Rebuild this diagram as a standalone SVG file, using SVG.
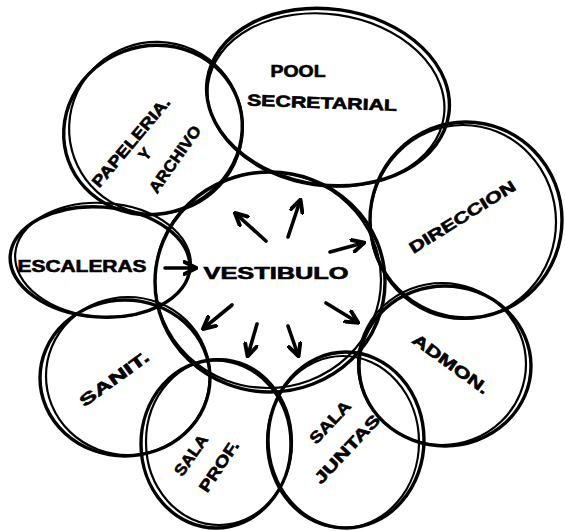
<svg xmlns="http://www.w3.org/2000/svg" width="565" height="531" viewBox="0 0 565 531">
<style>
.b{fill:none;stroke:#000;stroke-width:3.4;stroke-linecap:round}
.b2{fill:none;stroke:#000;stroke-width:2.2;stroke-linecap:round}
.t{font-family:"Liberation Sans",Arial,sans-serif;font-weight:bold;font-size:16px;fill:#000;stroke:#000;stroke-width:0.6;text-anchor:middle;dominant-baseline:middle}
.a{fill:none;stroke:#000;stroke-width:3.6;stroke-linecap:round}
</style>
<defs>
<marker id="ah" viewBox="0 0 10 10" refX="8" refY="5" markerWidth="4.2" markerHeight="4.2" orient="auto" markerUnits="strokeWidth">
<path d="M1,1 L9,5 L1,9" fill="none" stroke="#000" stroke-width="2.6" stroke-linejoin="round" stroke-linecap="round"/>
</marker>
</defs>
<rect width="565" height="531" fill="#fff"/>
<g id="papeleria">
<ellipse class="b" cx="153" cy="130" rx="90" ry="84" transform="rotate(-20 153 130)"/>
<ellipse class="b2" cx="156" cy="128" rx="87" ry="86" transform="rotate(-20 156 128)"/>
<text class="t" transform="translate(132,143) rotate(-50)" textLength="112" lengthAdjust="spacingAndGlyphs">PAPELERIA.</text>
<text class="t" transform="translate(146,155) rotate(-50)">Y</text>
<text class="t" transform="translate(176,160) rotate(-55)" textLength="78" lengthAdjust="spacingAndGlyphs">ARCHIVO</text>
</g>
<g id="pool">
<ellipse class="b" cx="328" cy="97" rx="122" ry="88" transform="rotate(8 328 97)"/>
<ellipse class="b2" cx="326" cy="100" rx="119" ry="86" transform="rotate(8 326 100)"/>
<text class="t" x="298" y="73" textLength="55" lengthAdjust="spacingAndGlyphs">POOL</text>
<text class="t" transform="translate(322,104) rotate(2)" textLength="150" lengthAdjust="spacingAndGlyphs">SECRETARIAL</text>
</g>
<g id="direccion">
<ellipse class="b" cx="466" cy="220" rx="96" ry="98"/>
<ellipse class="b2" cx="463" cy="222" rx="93" ry="97"/>
<text class="t" transform="translate(463,218) rotate(-32)" textLength="122" lengthAdjust="spacingAndGlyphs">DIRECCION</text>
</g>
<g id="escaleras">
<ellipse class="b" cx="100" cy="262" rx="90" ry="55" transform="rotate(4 100 262)"/>
<ellipse class="b2" cx="103" cy="260" rx="88" ry="57" transform="rotate(4 103 260)"/>
<text class="t" x="82" y="268" textLength="129" lengthAdjust="spacingAndGlyphs">ESCALERAS</text>
</g>
<g id="sanit">
<ellipse class="b" cx="125" cy="378" rx="85" ry="78"/>
<ellipse class="b2" cx="128" cy="376" rx="82" ry="79"/>
<text class="t" transform="translate(115,380) rotate(-36)" textLength="82" lengthAdjust="spacingAndGlyphs">SANIT.</text>
</g>
<g id="salaprof">
<ellipse class="b" cx="216" cy="444" rx="75" ry="84"/>
<ellipse class="b2" cx="219" cy="442" rx="73" ry="83"/>
<text class="t" transform="translate(192,456) rotate(-55)" textLength="46" lengthAdjust="spacingAndGlyphs">SALA</text>
<text class="t" transform="translate(220,467) rotate(-56)" textLength="58" lengthAdjust="spacingAndGlyphs">PROF.</text>
</g>
<g id="salajuntas">
<ellipse class="b" cx="346" cy="440" rx="78" ry="88"/>
<ellipse class="b2" cx="343" cy="442" rx="76" ry="86"/>
<text class="t" transform="translate(331,423) rotate(-47)" textLength="52" lengthAdjust="spacingAndGlyphs">SALA</text>
<text class="t" transform="translate(348,450) rotate(-47)" textLength="88" lengthAdjust="spacingAndGlyphs">JUNTAS</text>
</g>
<g id="admon">
<ellipse class="b" cx="445" cy="366" rx="86" ry="80"/>
<ellipse class="b2" cx="442" cy="364" rx="84" ry="81"/>
<text class="t" transform="translate(450,365) rotate(36)" textLength="90" lengthAdjust="spacingAndGlyphs">ADMON.</text>
</g>
<g id="vestibulo">
<ellipse class="b" cx="270" cy="282" rx="115" ry="110"/>
<ellipse class="b2" cx="268" cy="280" rx="113" ry="108"/>
<text class="t" x="276" y="275" textLength="145" lengthAdjust="spacingAndGlyphs">VESTIBULO</text>
</g>
<g id="connectors">
<line class="a" x1="165" y1="268" x2="195" y2="268" marker-end="url(#ah)"/>
<line class="a" x1="266" y1="241" x2="236" y2="214" marker-end="url(#ah)"/>
<line class="a" x1="288" y1="237" x2="300" y2="201" marker-end="url(#ah)"/>
<line class="a" x1="330" y1="252" x2="363" y2="243" marker-end="url(#ah)"/>
<line class="a" x1="232" y1="305" x2="204" y2="328" marker-end="url(#ah)"/>
<line class="a" x1="257" y1="324" x2="248" y2="355" marker-end="url(#ah)"/>
<line class="a" x1="288" y1="326" x2="298" y2="355" marker-end="url(#ah)"/>
<line class="a" x1="326" y1="303" x2="357" y2="322" marker-end="url(#ah)"/>
</g>
</svg>
